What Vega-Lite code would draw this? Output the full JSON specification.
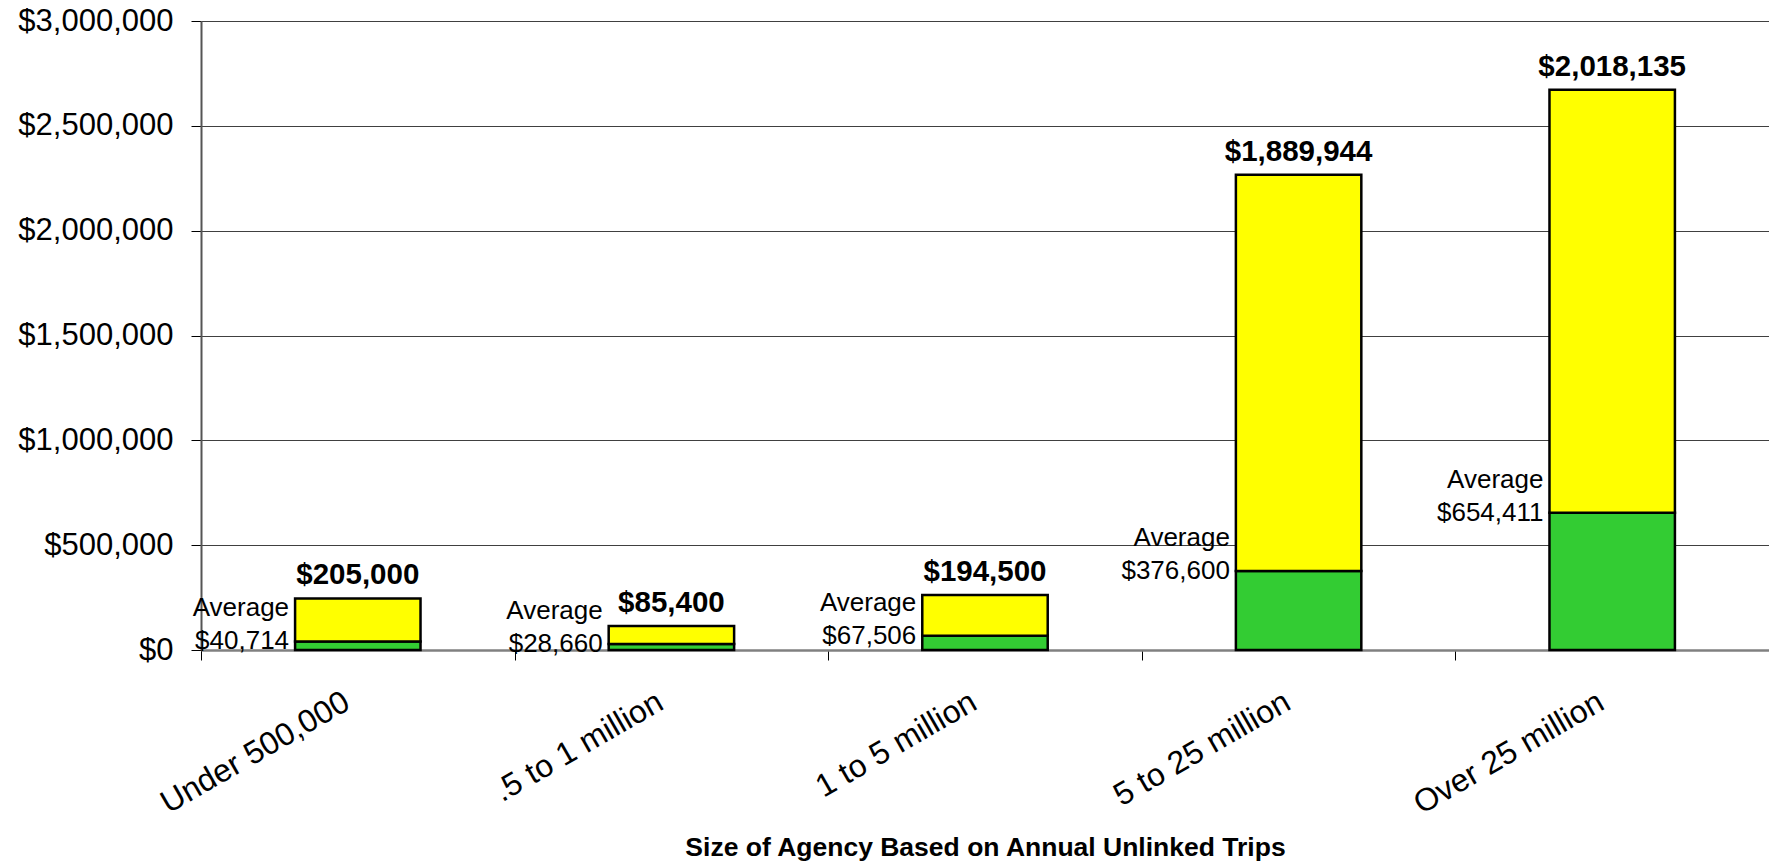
{
  "$schema": "https://vega.github.io/schema/vega-lite/v6.json",
  "autosize": "none",
  "width": 1568,
  "height": 629,
  "padding": {"left": 201, "top": 21, "right": 0, "bottom": 214},
  "background": "white",
  "config": {
    "font": "Liberation Sans",
    "view": {"stroke": null}
  },
  "data": {
    "values": [
      {"size": "Under 500,000", "segment": "avg", "value": 40714},
      {"size": "Under 500,000", "segment": "top", "value": 205000},
      {"size": ".5 to 1 million", "segment": "avg", "value": 28660},
      {"size": ".5 to 1 million", "segment": "top", "value": 85400},
      {"size": "1 to 5 million", "segment": "avg", "value": 67506},
      {"size": "1 to 5 million", "segment": "top", "value": 194500},
      {"size": "5 to 25 million", "segment": "avg", "value": 376600},
      {"size": "5 to 25 million", "segment": "top", "value": 1889944},
      {"size": "Over 25 million", "segment": "avg", "value": 654411},
      {"size": "Over 25 million", "segment": "top", "value": 2018135}
    ]
  },
  "transform": [
    {"stack": "value", "groupby": ["size"], "sort": [{"field": "segment", "order": "ascending"}], "as": ["v0", "v1"]}
  ],
  "encoding": {
    "x": {
      "field": "size",
      "type": "nominal",
      "sort": null,
      "scale": {"paddingInner": 0, "paddingOuter": 0},
      "axis": {
        "title": "Size of Agency Based on Annual Unlinked Trips",
        "titleFont": "Liberation Sans",
        "titleFontSize": 26.5,
        "titleFontWeight": "bold",
        "titleColor": "black",
        "titleBaseline": "alphabetic",
        "titleY": 205,
        "labelAngle": -30,
        "labelAlign": "right",
        "labelBaseline": "top",
        "labelFontSize": 32,
        "labelColor": "black",
        "labelPadding": 26,
        "labelOffset": -19,
        "labelLimit": 0,
        "tickBand": "extent",
        "tickSize": 10,
        "tickColor": "black",
        "tickWidth": 1,
        "domainColor": "#808080",
        "domainWidth": 2.5,
        "grid": false,
        "labelOverlap": false
      }
    }
  },
  "layer": [
    {
      "mark": {"type": "bar", "width": {"band": 0.4}, "stroke": "black", "strokeWidth": 2.5},
      "encoding": {
        "y": {
          "field": "v0",
          "type": "quantitative",
          "scale": {"domain": [0, 3000000], "nice": false},
          "axis": {
            "title": null,
            "values": [0, 500000, 1000000, 1500000, 2000000, 2500000, 3000000],
            "format": "$,.0f",
            "labelFontSize": 31,
            "labelColor": "black",
            "labelPadding": 18,
            "tickSize": 10,
            "tickColor": "black",
            "grid": true,
            "gridColor": "#404040",
            "gridWidth": 1,
            "domainColor": "#555555",
            "domainWidth": 2
          }
        },
        "y2": {"field": "v1"},
        "color": {
          "field": "segment",
          "type": "nominal",
          "scale": {"domain": ["avg", "top"], "range": ["#33CC33", "#FFFF00"]},
          "legend": null
        }
      }
    },
    {
      "transform": [{"filter": "datum.segment == 'top'"}],
      "mark": {"type": "text", "align": "center", "baseline": "alphabetic", "dy": -14, "fontSize": 29.5, "fontWeight": "bold", "color": "black"},
      "encoding": {
        "y": {"field": "v1", "type": "quantitative"},
        "text": {"field": "value", "type": "quantitative", "format": "$,.0f"}
      }
    },
    {
      "transform": [{"filter": "datum.segment == 'avg'"}],
      "mark": {"type": "text", "align": "right", "baseline": "middle", "dx": -6, "dy": 0, "fontSize": 26, "color": "black"},
      "encoding": {
        "x": {"field": "size", "type": "nominal", "sort": null, "bandPosition": 0.3},
        "y": {"field": "v1", "type": "quantitative"},
        "text": {"field": "value", "type": "quantitative", "format": "$,.0f"}
      }
    },
    {
      "transform": [{"filter": "datum.segment == 'avg'"}],
      "mark": {"type": "text", "align": "right", "baseline": "middle", "dx": -6, "dy": -33, "fontSize": 26, "color": "black", "text": "Average"},
      "encoding": {
        "x": {"field": "size", "type": "nominal", "sort": null, "bandPosition": 0.3},
        "y": {"field": "v1", "type": "quantitative"}
      }
    }
  ]
}
